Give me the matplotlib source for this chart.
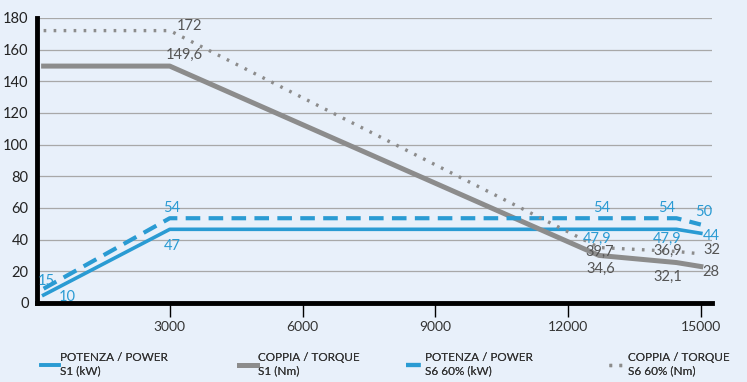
import matplotlib.pyplot as plt

plt.rcParams['font.family'] = ['Lato', 'DejaVu Sans']

# data
rpm_power = [150, 3000, 14450, 15000]
power_s1 = [5, 46.5, 46.5, 44]
power_s6 = [9, 53.5, 53.5, 49.5]

rpm_torque = [150, 3000, 12700, 14450, 15000]
torque_s1 = [149.6, 149.6, 30, 25.5, 23]
torque_s6 = [172, 172, 35, 32.5, 31]

x_ticks = [3000, 6000, 9000, 12000, 15000]
y_ticks = list(range(0, 181, 20))

# value labels: (text, x, y, series)
labels = [
    ('172', 3457, 175, 'g'), ('149,6', 3321, 156.7, 'g'),
    ('54', 3050, 60, 'b'), ('47', 3050, 36, 'b'),
    ('15', 203, 13.9, 'b'), ('10', 678, 3.8, 'b'),
    ('54', 12766, 60, 'b'), ('54', 14234, 60, 'b'), ('50', 15070, 57.5, 'b'),
    ('47,9', 12653, 40.5, 'b'), ('47,9', 14234, 40.5, 'b'), ('44', 15228, 42.3, 'b'),
    ('39,7', 12720, 32.5, 'g'), ('36,9', 14257, 33, 'g'), ('32', 15250, 33.5, 'g'),
    ('34,6', 12743, 21.5, 'g'), ('32,1', 14257, 16.4, 'g'), ('28', 15228, 19.6, 'g'),
]

bg = '#e8f0fa'
blue = '#2a9bd3'
gray = '#8c8c8c'

fig = plt.figure(figsize=(7.47, 3.82), dpi=100, facecolor=bg)
ax = fig.add_axes([0.0495, 0.207, 0.9035, 0.746], facecolor=bg)

l1, = ax.plot(rpm_power, power_s1, color=blue, lw=2.6)
l2, = ax.plot(rpm_torque, torque_s1, color=gray, lw=3.6)
l3, = ax.plot(rpm_power, power_s6, color=blue, lw=3, dashes=(3.5, 2))
l4, = ax.plot(rpm_torque, torque_s6, color=gray, lw=2.4, dashes=(0.8, 2.2))

for txt, x, y, c in labels:
    ax.text(x, y, txt, ha='center', va='center', fontsize=10.5,
            color=blue if c == 'b' else '#555555')

ax.set_xlim(0, 15250)
ax.set_ylim(0, 180)
ax.set_xticks(x_ticks)
ax.set_yticks(y_ticks)
ax.grid(axis='y', color='#a8a8a8', lw=0.9)
ax.set_axisbelow(True)
for s in ['top', 'right']:
    ax.spines[s].set_visible(False)
ax.spines['left'].set_linewidth(3.5)
ax.spines['bottom'].set_linewidth(3.5)
ax.tick_params(axis='y', length=0, labelsize=10.5, pad=6, labelcolor='#222222')
ax.tick_params(axis='x', length=10, width=1, direction='out', labelsize=10,
               labelcolor='#333333', pad=3)

# legend: four separate entries along the bottom
entries = [
    (l1, 'POTENZA / POWER\nS1 (kW)', 0.047),
    (l2, 'COPPIA / TORQUE\nS1 (Nm)', 0.312),
    (l3, 'POTENZA / POWER\nS6 60% (kW)', 0.536),
    (l4, 'COPPIA / TORQUE\nS6 60% (Nm)', 0.807),
]
for h, lab, xpos in entries:
    leg = fig.legend([h], [lab], loc='lower left', bbox_to_anchor=(xpos, 0.0),
                     frameon=False, fontsize=8.5, handlelength=1.5,
                     handletextpad=0.12, borderaxespad=0.1, labelcolor='#333333')
    fig.add_artist(leg)

fig.savefig('out.png', dpi=100, facecolor=bg)
